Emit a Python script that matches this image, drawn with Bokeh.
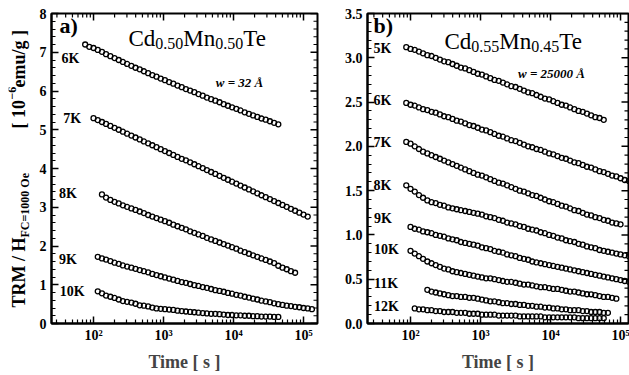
import math
from bokeh.plotting import figure
from bokeh.models import Range1d, FixedTicker, Label
from bokeh.layouts import row
from bokeh.embed import file_html
from bokeh.resources import INLINE

# ---------------- data ----------------
# measurement times [s] (shared grid); each curve starts at a grid index
TIME = [76, 87, 100, 115, 132, 151, 174, 200, 229, 263, 302, 347, 398, 457, 525,
        603, 692, 794, 912, 1047, 1202, 1380, 1585, 1820, 2089, 2399, 2754, 3162,
        3631, 4169, 4786, 5495, 6310, 7244, 8318, 9550, 10965, 12589, 14454, 16596,
        19055, 21878, 25119, 28840, 33113, 38019, 43652, 50119, 57544, 66069, 75858,
        87096, 100000, 114815, 131826, 151356]

# panel a) Cd0.50Mn0.50Te, TRM in 1e-6 emu/g
A_6K_START = 0
A_6K = [7.20, 7.14, 7.11, 7.06, 7.01, 6.95, 6.90, 6.85, 6.80, 6.75, 6.70, 6.65, 6.60,
        6.56, 6.51, 6.46, 6.41, 6.37, 6.32, 6.28, 6.23, 6.19, 6.14, 6.10, 6.05, 6.01,
        5.97, 5.92, 5.88, 5.83, 5.79, 5.75, 5.71, 5.66, 5.62, 5.58, 5.54, 5.50, 5.45,
        5.41, 5.37, 5.33, 5.29, 5.26, 5.22, 5.18, 5.14]
A_7K_START = 2
A_7K = [5.30, 5.25, 5.20, 5.15, 5.10, 5.05, 5.00, 4.95, 4.90, 4.85, 4.80, 4.75, 4.70,
        4.65, 4.60, 4.55, 4.50, 4.45, 4.40, 4.35, 4.30, 4.25, 4.21, 4.16, 4.11, 4.06,
        4.01, 3.96, 3.91, 3.86, 3.81, 3.76, 3.71, 3.66, 3.61, 3.56, 3.51, 3.46, 3.41,
        3.36, 3.31, 3.26, 3.21, 3.16, 3.11, 3.06, 3.01, 2.96, 2.91, 2.86, 2.81, 2.76]
A_8K_START = 4
A_8K = [3.33, 3.25, 3.19, 3.14, 3.10, 3.05, 3.01, 2.97, 2.93, 2.89, 2.85, 2.80, 2.76,
        2.72, 2.68, 2.64, 2.60, 2.55, 2.51, 2.47, 2.43, 2.38, 2.34, 2.30, 2.26, 2.21,
        2.17, 2.13, 2.09, 2.05, 2.01, 1.97, 1.93, 1.88, 1.84, 1.80, 1.76, 1.72, 1.68,
        1.64, 1.60, 1.56, 1.49, 1.44, 1.40, 1.35, 1.31]
A_9K_START = 3
A_9K = [1.72, 1.68, 1.65, 1.61, 1.57, 1.54, 1.50, 1.47, 1.44, 1.41, 1.38, 1.35, 1.32,
        1.28, 1.25, 1.22, 1.19, 1.16, 1.13, 1.10, 1.07, 1.05, 1.02, 0.99, 0.97, 0.94,
        0.92, 0.89, 0.86, 0.84, 0.82, 0.79, 0.77, 0.74, 0.72, 0.69, 0.67, 0.64, 0.62,
        0.59, 0.57, 0.55, 0.52, 0.50, 0.48, 0.46, 0.45, 0.43, 0.42, 0.40, 0.39, 0.37]
A_10K_START = 3
A_10K = [0.83, 0.78, 0.72, 0.69, 0.66, 0.62, 0.58, 0.56, 0.54, 0.51, 0.47, 0.46, 0.44,
         0.41, 0.39, 0.38, 0.37, 0.36, 0.35, 0.33, 0.32, 0.31, 0.30, 0.29, 0.28, 0.27,
         0.26, 0.25, 0.25, 0.24, 0.23, 0.22, 0.22, 0.21, 0.21, 0.20, 0.20, 0.19, 0.19,
         0.18, 0.18, 0.18, 0.17, 0.17]

# panel b) Cd0.55Mn0.45Te
B_5K_START = 1
B_5K = [3.12, 3.10, 3.09, 3.07, 3.05, 3.03, 3.02, 3.00, 2.98, 2.96, 2.95, 2.93, 2.91,
        2.89, 2.88, 2.86, 2.84, 2.82, 2.81, 2.79, 2.77, 2.75, 2.74, 2.72, 2.70, 2.68,
        2.67, 2.65, 2.63, 2.61, 2.60, 2.58, 2.56, 2.54, 2.53, 2.51, 2.49, 2.47, 2.46,
        2.44, 2.42, 2.40, 2.39, 2.37, 2.35, 2.33, 2.32, 2.30]
B_6K_START = 1
B_6K = [2.49, 2.47, 2.46, 2.44, 2.42, 2.41, 2.39, 2.38, 2.36, 2.34, 2.33, 2.31, 2.29,
        2.28, 2.26, 2.24, 2.23, 2.21, 2.19, 2.18, 2.16, 2.14, 2.12, 2.11, 2.09, 2.07,
        2.06, 2.04, 2.02, 2.00, 1.99, 1.97, 1.96, 1.94, 1.92, 1.91, 1.89, 1.87, 1.86,
        1.84, 1.82, 1.81, 1.79, 1.77, 1.76, 1.74, 1.72, 1.71, 1.69, 1.67, 1.66, 1.64,
        1.62, 1.61]
B_7K_START = 1
B_7K = [2.05, 2.03, 2.00, 1.97, 1.94, 1.92, 1.90, 1.88, 1.86, 1.84, 1.82, 1.80, 1.78,
        1.76, 1.74, 1.72, 1.70, 1.68, 1.67, 1.65, 1.63, 1.61, 1.59, 1.58, 1.56, 1.54,
        1.52, 1.50, 1.49, 1.47, 1.45, 1.44, 1.42, 1.40, 1.38, 1.37, 1.35, 1.33, 1.32,
        1.30, 1.28, 1.27, 1.25, 1.23, 1.22, 1.20, 1.19, 1.17, 1.16, 1.14, 1.13, 1.12]
B_8K_START = 1
B_8K = [1.56, 1.52, 1.49, 1.45, 1.42, 1.39, 1.37, 1.36, 1.34, 1.33, 1.31, 1.30, 1.29,
        1.28, 1.27, 1.26, 1.25, 1.24, 1.23, 1.21, 1.20, 1.19, 1.17, 1.16, 1.14, 1.13,
        1.12, 1.10, 1.09, 1.07, 1.06, 1.05, 1.03, 1.02, 1.00, 0.99, 0.97, 0.96, 0.94,
        0.93, 0.92, 0.90, 0.89, 0.87, 0.86, 0.85, 0.83, 0.82, 0.81, 0.80, 0.79, 0.78,
        0.77, 0.76]
B_9K_START = 2
B_9K = [1.09, 1.07, 1.06, 1.04, 1.03, 1.02, 1.00, 0.99, 0.98, 0.96, 0.95, 0.94, 0.92,
        0.91, 0.90, 0.89, 0.88, 0.86, 0.85, 0.84, 0.82, 0.81, 0.80, 0.78, 0.77, 0.76,
        0.74, 0.73, 0.72, 0.70, 0.69, 0.68, 0.67, 0.66, 0.65, 0.64, 0.63, 0.62, 0.61,
        0.60, 0.59, 0.58, 0.57, 0.56, 0.55, 0.54, 0.53, 0.52, 0.51, 0.50, 0.49, 0.48,
        0.47]
B_10K_START = 2
B_10K = [0.82, 0.79, 0.76, 0.73, 0.70, 0.68, 0.66, 0.64, 0.62, 0.61, 0.59, 0.58, 0.57,
         0.56, 0.55, 0.54, 0.53, 0.52, 0.51, 0.51, 0.50, 0.49, 0.48, 0.47, 0.47, 0.46,
         0.45, 0.44, 0.44, 0.43, 0.42, 0.41, 0.41, 0.40, 0.39, 0.39, 0.38, 0.37, 0.36,
         0.36, 0.35, 0.34, 0.33, 0.33, 0.32, 0.31, 0.30, 0.30, 0.29, 0.28]
B_11K_START = 6
B_11K = [0.38, 0.36, 0.35, 0.34, 0.33, 0.32, 0.31, 0.31, 0.30, 0.30, 0.29, 0.29, 0.28,
         0.27, 0.26, 0.25, 0.25, 0.24, 0.23, 0.23, 0.22, 0.22, 0.21, 0.21, 0.20, 0.20,
         0.19, 0.19, 0.18, 0.18, 0.17, 0.17, 0.16, 0.16, 0.15, 0.15, 0.15, 0.14, 0.14,
         0.13, 0.13, 0.13, 0.12, 0.12]
B_12K_START = 3
B_12K = [0.17, 0.16, 0.16, 0.15, 0.15, 0.14, 0.14, 0.13, 0.13, 0.13, 0.12, 0.12, 0.12,
         0.11, 0.11, 0.11, 0.10, 0.10, 0.10, 0.10, 0.09, 0.09, 0.09, 0.09, 0.09, 0.08,
         0.08, 0.08, 0.08, 0.08, 0.08, 0.07, 0.07, 0.07, 0.07, 0.07, 0.07, 0.07, 0.07,
         0.06, 0.06, 0.06, 0.06, 0.06, 0.06, 0.06]

A_SERIES = [(A_6K_START, A_6K), (A_7K_START, A_7K), (A_8K_START, A_8K),
            (A_9K_START, A_9K), (A_10K_START, A_10K)]
B_SERIES = [(B_5K_START, B_5K), (B_6K_START, B_6K), (B_7K_START, B_7K),
            (B_8K_START, B_8K), (B_9K_START, B_9K), (B_10K_START, B_10K),
            (B_11K_START, B_11K), (B_12K_START, B_12K)]

# curve labels: (text, time position, value position)
A_LABELS = [("6K", 35, 6.84), ("7K", 37, 5.29), ("8K", 32, 3.35), ("9K", 32, 1.65),
            ("10K", 33, 0.83)]
B_LABELS = [("5K", 29.6, 3.10), ("6K", 29.6, 2.52), ("7K", 29.6, 2.04), ("8K", 29.6, 1.56),
            ("9K", 30, 1.19), ("10K", 30, 0.84), ("11K", 30, 0.45), ("12K", 30, 0.19)]

X_TICKS = [100, 1000, 10000, 100000]
X_TICK_LABELS = ["10²", "10³", "10⁴", "10⁵"]
A_Y_TICKS = [0, 1, 2, 3, 4, 5, 6, 7, 8]
A_Y_LABELS = ["0", "1", "2", "3", "4", "5", "6", "7", "8"]
B_Y_TICKS = [0.0, 0.5, 1.0, 1.5, 2.0, 2.5, 3.0, 3.5]
B_Y_LABELS = ["0.0", "0.5", "1.0", "1.5", "2.0", "2.5", "3.0", "3.5"]

SERIF = "Liberation Serif"
FRAME_H = 310
TOP = 13
BOTTOM = 50
TICK_MAJ = 7
TICK_MIN = 4


def text(p, x, y, s, size, style="bold", align="left", baseline="alphabetic",
         xo=0, yo=0, angle=0.0):
    p.add_layout(Label(x=x, y=y, text=s, text_font=SERIF, text_font_size=f"{size}px",
                       text_font_style=style, text_align=align, text_baseline=baseline,
                       x_offset=xo, y_offset=yo, angle=angle, text_color="black"))


def panel(xr, yr, fw, bl, br, yticks, ylabels, yminor):
    p = figure(x_axis_type="log", x_range=Range1d(*xr), y_range=Range1d(*yr),
               frame_width=fw, frame_height=FRAME_H, min_border_left=bl,
               min_border_right=br, min_border_top=TOP, min_border_bottom=BOTTOM,
               output_backend="svg", toolbar_location=None,
               background_fill_color="white", border_fill_color="white")
    p.grid.visible = False
    p.outline_line_color = "black"
    p.outline_line_width = 2

    xminor = [m * 10 ** e for e in range(1, 6) for m in range(2, 10)
              if xr[0] < m * 10 ** e < xr[1]]
    yminor = [v for v in yminor if v not in yticks]

    xa = p.below[0]
    ya = p.left[0]
    xa.ticker = FixedTicker(ticks=X_TICKS, minor_ticks=xminor)
    ya.ticker = FixedTicker(ticks=yticks, minor_ticks=yminor)
    for ax in (xa, ya):
        ax.axis_line_width = 2
        ax.major_tick_in = TICK_MAJ
        ax.major_tick_out = 0
        ax.minor_tick_in = TICK_MIN
        ax.minor_tick_out = 0
        ax.major_tick_line_width = 1.5
        ax.minor_tick_line_width = 1.2
        ax.major_label_text_font = SERIF
        ax.major_label_text_font_style = "bold"
        ax.major_label_text_color = "black"
        ax.major_label_text_font_size = "14px"

    xa.major_label_overrides = {t: s for t, s in zip(X_TICKS, X_TICK_LABELS)}
    xa.major_label_standoff = 4
    xa.axis_label = "Time [ s ]"
    xa.axis_label_text_font = SERIF
    xa.axis_label_text_font_style = "bold"
    xa.axis_label_text_font_size = "18px"
    xa.axis_label_standoff = 6

    ya.major_label_overrides = {t: s for t, s in zip(yticks, ylabels)}
    ya.major_label_standoff = 5

    # mirrored inward ticks on the top and right frame edges
    lx0, lx1 = math.log10(xr[0]), math.log10(xr[1])
    px_dec = fw / (lx1 - lx0)
    px_unit = FRAME_H / (yr[1] - yr[0])
    for ticks, ln, lw in ((X_TICKS, TICK_MAJ, 1.5), (xminor, TICK_MIN, 1.2)):
        p.segment(x0=ticks, x1=ticks, y0=[yr[1]] * len(ticks),
                  y1=[yr[1] - ln / px_unit] * len(ticks), line_color="black", line_width=lw)
    for ticks, ln, lw in ((yticks, TICK_MAJ, 1.5), (yminor, TICK_MIN, 1.2)):
        p.segment(x0=[xr[1]] * len(ticks), x1=[xr[1] / 10 ** (ln / px_dec)] * len(ticks),
                  y0=ticks, y1=ticks, line_color="black", line_width=lw)
    return p


# ---------------- y title strip ----------------
pt = figure(x_range=Range1d(0, 28), y_range=Range1d(0, FRAME_H), frame_width=28,
            frame_height=FRAME_H, min_border_left=8, min_border_right=0,
            min_border_top=TOP, min_border_bottom=BOTTOM, x_axis_location=None,
            y_axis_location=None, output_backend="svg", toolbar_location=None,
            outline_line_color=None, background_fill_color="white",
            border_fill_color="white")
pt.grid.visible = False
ang = math.pi / 2
text(pt, 10, 16, "TRM / H", 18, "bold", baseline="middle", angle=ang)
text(pt, 16, 86, "FC=1000 Oe", 12, "bold", baseline="middle", angle=ang)
text(pt, 10, 195, "[ 10", 18, "bold", baseline="middle", angle=ang)
text(pt, 3, 224, "−6", 12, "bold", baseline="middle", angle=ang)
text(pt, 10, 236, " emu/g ]", 18, "bold", baseline="middle", angle=ang)

# ---------------- panel a ----------------
pa = panel((25.1, 158489), (0, 8), 266, 14, 20, A_Y_TICKS, A_Y_LABELS,
           [i * 0.2 for i in range(41)])
for st, vals in A_SERIES:
    pa.scatter(TIME[st:st + len(vals)], vals, marker="circle", size=5,
               fill_alpha=0, line_color="black", line_width=1.3)
for s, x, y in A_LABELS:
    text(pa, x, y, s, 14, baseline="middle")
text(pa, 32.7, 8.0, "a)", 22, baseline="top", yo=1)
tx, ty = 316, 7.17
text(pa, tx, ty, "Cd", 23, "normal", yo=7)
text(pa, tx, ty, "0.50", 16, "normal", xo=26.8, yo=2)
text(pa, tx, ty, "Mn", 23, "normal", xo=54.8, yo=7)
text(pa, tx, ty, "0.50", 16, "normal", xo=86.7, yo=2)
text(pa, tx, ty, "Te", 23, "normal", xo=114.7, yo=7)
text(pa, 12190, 6.22, "w = 32 Å", 13, "bold italic", align="center")

# ---------------- panel b ----------------
pb = panel((24.3, 130000), (0, 3.5), 261, 30, 2, B_Y_TICKS, B_Y_LABELS,
           [i * 0.1 for i in range(36)])
for st, vals in B_SERIES:
    pb.scatter(TIME[st:st + len(vals)], vals, marker="circle", size=5,
               fill_alpha=0, line_color="black", line_width=1.3)
for s, x, y in B_LABELS:
    text(pb, x, y, s, 14, baseline="middle")
text(pb, 29.6, 3.5, "b)", 22, baseline="top", yo=1)
tx, ty = 306, 3.105
text(pb, tx, ty, "Cd", 23, "normal", yo=7)
text(pb, tx, ty, "0.55", 16, "normal", xo=26.8, yo=2)
text(pb, tx, ty, "Mn", 23, "normal", xo=54.8, yo=7)
text(pb, tx, ty, "0.45", 16, "normal", xo=86.7, yo=2)
text(pb, tx, ty, "Te", 23, "normal", xo=114.7, yo=7)
text(pb, 10330, 2.79, "w = 25000 Å", 13, "bold italic", align="center", yo=3)

layout = row(pt, pa, pb)
open("out.html", "w").write(file_html(layout, INLINE))
